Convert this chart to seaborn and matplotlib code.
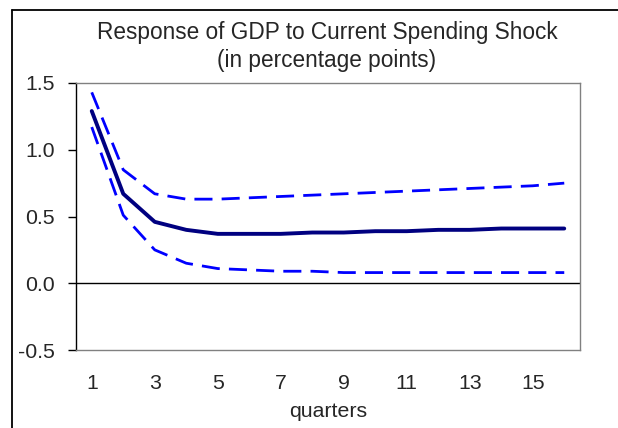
import matplotlib
matplotlib.use("Agg")
import matplotlib.pyplot as plt
import seaborn as sns
import pandas as pd
from matplotlib.lines import Line2D

quarters = list(range(1, 17))
response = [1.29, 0.67, 0.46, 0.40, 0.37, 0.37, 0.37, 0.38, 0.38, 0.39, 0.39, 0.40, 0.40, 0.41, 0.41, 0.41]
upper = [1.43, 0.85, 0.67, 0.63, 0.63, 0.64, 0.65, 0.66, 0.67, 0.68, 0.69, 0.70, 0.71, 0.72, 0.73, 0.75]
lower = [1.17, 0.51, 0.25, 0.15, 0.11, 0.10, 0.09, 0.09, 0.08, 0.08, 0.08, 0.08, 0.08, 0.08, 0.08, 0.08]
yticks = [-0.5, 0.0, 0.5, 1.0, 1.5]
xticks = [1, 3, 5, 7, 9, 11, 13, 15]

sns.set_style("white")
plt.rcParams['font.family'] = ['Liberation Sans', 'DejaVu Sans']

FS = 15.3
fig = plt.figure(figsize=(6.18, 4.28), dpi=100)
W, H = 618, 428
ax = fig.add_axes([76 / W, 1 - 350 / H, (580 - 76) / W, (350 - 83) / H])

df = pd.DataFrame({"q": quarters, "resp": response, "up": upper, "lo": lower})
sns.lineplot(data=df, x="q", y="up", ax=ax, color="#0000FF", lw=2.0)
sns.lineplot(data=df, x="q", y="lo", ax=ax, color="#0000FF", lw=2.0)
for ln in ax.lines:
    ln.set_dashes((6.5, 3.3))
sns.lineplot(data=df, x="q", y="resp", ax=ax, color="#000080", lw=2.8)

ax.axhline(0, color="black", lw=1.0, zorder=1)
ax.set_xlim(0.5, 16.5)
ax.set_ylim(-0.5, 1.5)
ax.set_yticks(yticks)
ax.set_yticklabels([f"{v:.1f}" for v in yticks])
ax.set_xticks(xticks)
ax.set_xticklabels([str(v) for v in xticks])
ax.tick_params(axis="y", length=6, width=1, color="black", pad=9, labelsize=FS, left=True, direction="out")
ax.tick_params(axis="x", length=0, pad=17, labelsize=FS)
ax.set_ylabel("")
ax.set_xlabel("quarters", fontsize=FS, labelpad=7)

for s in ["top", "right", "bottom"]:
    ax.spines[s].set_color("#808080")
    ax.spines[s].set_linewidth(1.0)
ax.spines["left"].set_color("black")
ax.spines["left"].set_linewidth(1.0)

fig.text(327 / W, 1 - 32 / H, "Response of GDP to Current Spending Shock", ha="center", va="center", fontsize=16.3)
fig.text(327 / W, 1 - 60 / H, "(in percentage points)", ha="center", va="center", fontsize=16.3)

# outer frame (cropped at right and bottom)
fig.add_artist(Line2D([12 / W, 12 / W], [0, 1 - 10 / H], transform=fig.transFigure, color="black", lw=1.3))
fig.add_artist(Line2D([12 / W, 1], [1 - 10 / H, 1 - 10 / H], transform=fig.transFigure, color="black", lw=1.3))

fig.savefig("out.png", dpi=100)
